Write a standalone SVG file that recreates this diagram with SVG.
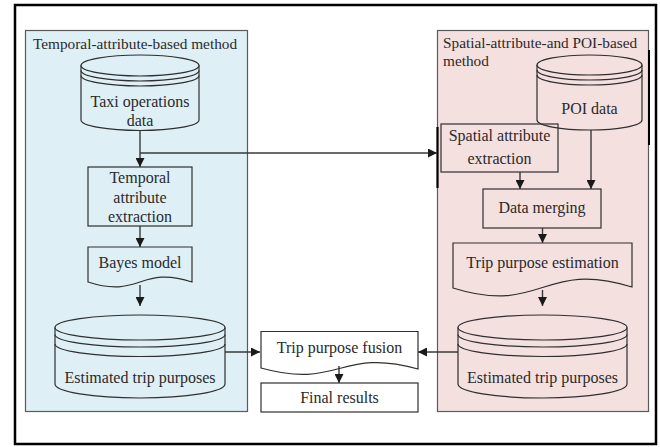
<svg xmlns="http://www.w3.org/2000/svg" width="660" height="447" viewBox="0 0 660 447">
  <defs>
    <marker id="arrow" viewBox="0 0 10 10" refX="10" refY="5" markerWidth="9" markerHeight="9" markerUnits="userSpaceOnUse" orient="auto">
      <path d="M0,0 L10,5 L0,10 Z" fill="#1a1a1a"/>
    </marker>
    <style>
      text { font-family: "Liberation Serif", "Times New Roman", serif; font-size: 16px; fill: #2a2a2a; }
      .title { font-size: 15.3px; }
      .mid { text-anchor: middle; }
      .shape { fill: none; stroke: #2f2f2f; stroke-width: 1.2; }
      .panel { stroke: #5a5a5a; stroke-width: 1.2; }
      .conn { fill: none; stroke: #3a3a3a; stroke-width: 1.4; }
    </style>
  </defs>

  <rect x="0" y="0" width="660" height="447" fill="#ffffff"/>
  <!-- outer frame -->
  <rect x="15" y="5" width="641" height="439" fill="none" stroke="#000" stroke-width="2.5"/>

  <!-- method panels -->
  <g id="panel-temporal">
    <rect class="panel" x="25.5" y="30.5" width="222" height="381" fill="#dfeff6"/>
    <text class="title" x="33" y="48.5">Temporal-attribute-based method</text>
  </g>
  <g id="panel-spatial">
    <rect class="panel" x="437.5" y="30.5" width="211" height="381" fill="#f5e0e0"/>
    <line x1="649" y1="50" x2="649" y2="145" stroke="#000" stroke-width="2"/>
    <line x1="437.5" y1="127" x2="437.5" y2="188" stroke="#000" stroke-width="2.2"/>
    <text class="title" x="443" y="48">Spatial-attribute-and POI-based</text>
    <text class="title" x="443" y="65.5">method</text>
  </g>

  <!-- connectors -->
  <g id="connectors">
    <path class="conn" d="M140,131 V167" marker-end="url(#arrow)"/>
    <path class="conn" d="M140,153 H437" marker-end="url(#arrow)"/>
    <path class="conn" d="M140,226 V247" marker-end="url(#arrow)"/>
    <path class="conn" d="M140,285 V306" marker-end="url(#arrow)"/>
    <path class="conn" d="M225,352 H260" marker-end="url(#arrow)"/>
    <path class="conn" d="M458,352 H418" marker-end="url(#arrow)"/>
    <path class="conn" d="M339,366 V383" marker-end="url(#arrow)"/>
    <path class="conn" d="M591,130 V189" marker-end="url(#arrow)"/>
    <path class="conn" d="M520,172 V189" marker-end="url(#arrow)"/>
    <path class="conn" d="M542.5,228 V243" marker-end="url(#arrow)"/>
    <path class="conn" d="M542.5,290 V306" marker-end="url(#arrow)"/>
  </g>

  <!-- data stores -->
  <g id="taxi-data">
    <path class="shape" d="M81,65.5 A59,10.5 0 0 1 199,65.5 V120 A59,10.5 0 0 1 81,120 Z" fill="#dfeff6"/>
    <path class="shape" d="M81,65.5 A59,10.5 0 0 0 199,65.5 M81,70.5 A59,10.5 0 0 0 199,70.5 M81,75.5 A59,10.5 0 0 0 199,75.5"/>
    <text class="mid" x="140" y="107">Taxi operations</text>
    <text class="mid" x="140" y="126">data</text>
  </g>

  <g id="poi-data">
    <path class="shape" d="M537,65 A52.5,10 0 0 1 642,65 V120 A52.5,10 0 0 1 537,120 Z" fill="#f5e0e0"/>
    <path class="shape" d="M537,65 A52.5,10 0 0 0 642,65 M537,70 A52.5,10 0 0 0 642,70 M537,75 A52.5,10 0 0 0 642,75"/>
    <text class="mid" x="589.5" y="114">POI data</text>
  </g>

  <g id="estimated-temporal">
    <path class="shape" d="M55,327.5 A85,12.5 0 0 1 225,327.5 V384 A85,14 0 0 1 55,384 Z" fill="#dfeff6"/>
    <path class="shape" d="M55,327.5 A85,12.5 0 0 0 225,327.5 M55,334.5 A85,12.5 0 0 0 225,334.5 M55,344 A85,12.5 0 0 0 225,344"/>
    <text class="mid" x="140" y="383">Estimated trip purposes</text>
  </g>

  <g id="estimated-spatial">
    <path class="shape" d="M458,327.5 A84.5,12.5 0 0 1 627,327.5 V384 A84.5,14 0 0 1 458,384 Z" fill="#f5e0e0"/>
    <path class="shape" d="M458,327.5 A84.5,12.5 0 0 0 627,327.5 M458,334.5 A84.5,12.5 0 0 0 627,334.5 M458,344 A84.5,12.5 0 0 0 627,344"/>
    <text class="mid" x="542.5" y="383">Estimated trip purposes</text>
  </g>

  <!-- process steps -->
  <g id="temporal-extraction">
    <rect class="shape" x="88" y="167" width="104" height="59" fill="#dfeff6"/>
    <text class="mid" x="140" y="183">Temporal</text>
    <text class="mid" x="140" y="203">attribute</text>
    <text class="mid" x="140" y="222">extraction</text>
  </g>

  <g id="bayes-model">
    <path class="shape" d="M88,282 V247 H192 V282 C140,265 140,299 88,282 Z" fill="#dfeff6"/>
    <text class="mid" x="140" y="268">Bayes model</text>
  </g>

  <g id="spatial-extraction">
    <rect class="shape" x="441" y="124" width="117" height="48" fill="#f5e0e0"/>
    <text class="mid" x="499.5" y="141">Spatial attribute</text>
    <text class="mid" x="499.5" y="164">extraction</text>
  </g>

  <g id="data-merging">
    <rect class="shape" x="483" y="189" width="118" height="39" fill="#f5e0e0"/>
    <text class="mid" x="542" y="213">Data merging</text>
  </g>

  <g id="purpose-estimation">
    <path class="shape" d="M453,288 V243 H632 V287 C542.5,259 542.5,316 453,288 Z" fill="#f5e0e0"/>
    <text class="mid" x="542.5" y="268">Trip purpose estimation</text>
  </g>

  <g id="purpose-fusion">
    <path class="shape" d="M261,368 V331.5 H418 V369 C339.5,347 339.5,390 261,368 Z" fill="#ffffff"/>
    <text class="mid" x="339.5" y="353">Trip purpose fusion</text>
  </g>

  <g id="final-results">
    <rect class="shape" x="261" y="383" width="157" height="29" fill="#ffffff"/>
    <text class="mid" x="339.5" y="403">Final results</text>
  </g>
</svg>
